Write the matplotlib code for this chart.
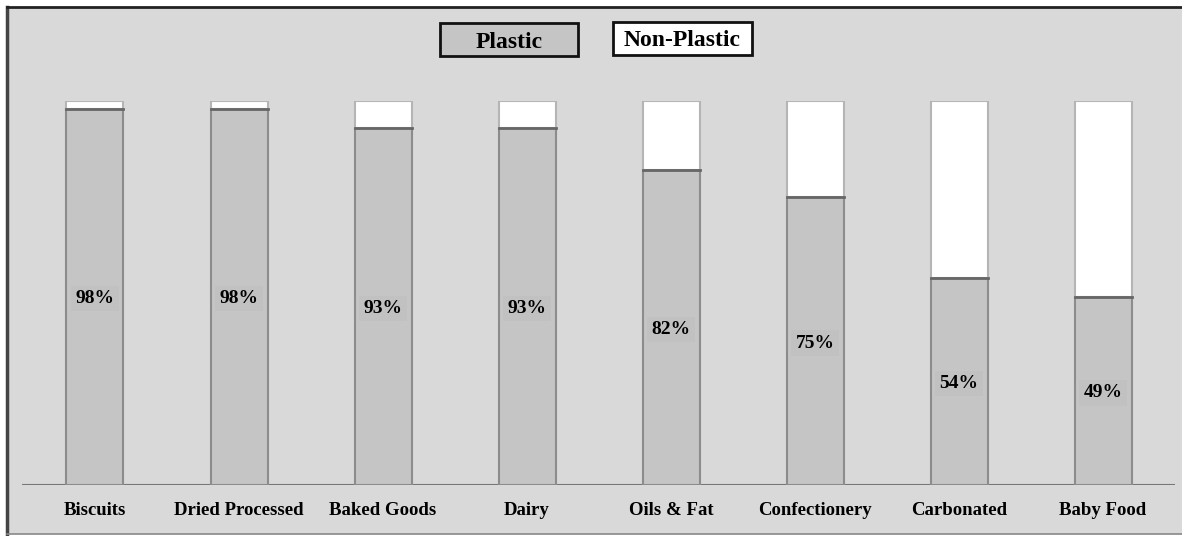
import matplotlib
matplotlib.use("Agg")
import matplotlib.pyplot as plt
from matplotlib.patches import Rectangle

# Share of plastic packaging by food category.
categories = ["Biscuits", "Dried Processed", "Baked Goods", "Dairy",
              "Oils & Fat", "Confectionery", "Carbonated", "Baby Food"]
plastic = [98, 98, 93, 93, 82, 75, 54, 49]
non_plastic = [100 - v for v in plastic]
labels = ["%d%%" % v for v in plastic]

W, H = 1182, 536
serif = ["Liberation Serif", "DejaVu Serif"]
panel = "#d9d9d9"
bar_grey = "#c5c5c5"

fig = plt.figure(figsize=(W / 100, H / 100), dpi=100, facecolor="white")

# Grey panel with dark frame on left/top.
fig.patches.append(Rectangle((7 / W, 1 - 534 / H), (W - 7) / W, 527 / H,
                             transform=fig.transFigure, facecolor=panel,
                             edgecolor="none", zorder=-10))
fig.add_artist(plt.Line2D([7 / W, 7 / W], [1 - 534 / H, 1 - 7 / H],
                          transform=fig.transFigure, color="#444444", lw=2.5))
fig.add_artist(plt.Line2D([7 / W, 1], [1 - 7 / H, 1 - 7 / H],
                          transform=fig.transFigure, color="#222222", lw=2))
fig.add_artist(plt.Line2D([7 / W, 1], [1 - 534 / H, 1 - 534 / H],
                          transform=fig.transFigure, color="#888888", lw=1.2))

# Axes: baseline at y=485px, 100% at y=101px
ax = fig.add_axes([22 / W, 1 - 485 / H, (1175 - 22) / W, 384 / H])
ax.set_facecolor("none")
ax.set_xlim(-73 / 144, 7 + 72 / 144)
ax.set_ylim(0, 100)
for s in ax.spines.values():
    s.set_visible(False)
ax.set_xticks([])
ax.set_yticks([])
ax.axhline(0, color="#777777", lw=1.5, zorder=1)

x = range(len(categories))
w = 57 / 144
ax.bar(x, plastic, width=w, color=bar_grey, edgecolor="#8c8c8c", lw=1.5,
       zorder=2)
ax.bar(x, non_plastic, bottom=plastic, width=w, color="white",
       edgecolor="#b5b5b5", lw=1.5, zorder=2)
for i, v in enumerate(plastic):
    ax.plot([i - w / 2, i + w / 2], [v, v], color="#666666", lw=2, zorder=3)
    ax.text(i, v / 2, labels[i], ha="center", va="center_baseline",
            fontsize=14, fontweight="bold", family=serif, zorder=4,
            bbox=dict(facecolor="#c1c1c1", edgecolor="none", pad=3))
    ax.text(i, -6, categories[i], ha="center", va="center_baseline",
            fontsize=13.5, fontweight="bold", family=serif, clip_on=False)

# Legend boxes
legend = [("Plastic", bar_grey, 440, 578, 23, 56),
          ("Non-Plastic", "white", 613, 752, 22, 55)]
for name, fc, x0, x1, y0, y1 in legend:
    fig.patches.append(Rectangle((x0 / W, 1 - y1 / H), (x1 - x0) / W,
                                 (y1 - y0) / H, transform=fig.transFigure,
                                 facecolor=fc, edgecolor="#111111", lw=2,
                                 zorder=5))
    fig.text((x0 + x1) / 2 / W, 1 - (y0 + y1) / 2 / H, name, ha="center",
             va="center_baseline", fontsize=17, fontweight="bold",
             family=serif, zorder=6)

fig.savefig("out.png", dpi=100, facecolor="white")
